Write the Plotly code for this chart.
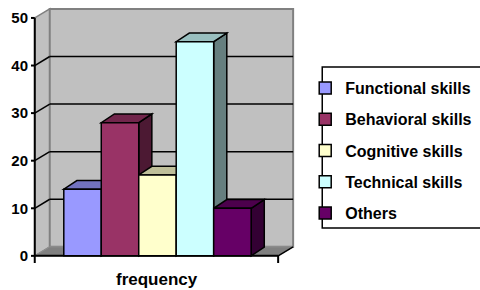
import plotly.graph_objects as go

# ---- data ----
categories = ["Functional skills", "Behavioral skills", "Cognitive skills", "Technical skills", "Others"]
values = [14, 28, 17, 45, 10]
colors = ["#9999FF", "#993366", "#FFFFCC", "#CCFFFF", "#660066"]
y_ticks = [0, 10, 20, 30, 40, 50]
x_label = "frequency"

# ---- geometry (in axis units) ----
XA, XR = -1.275, 5.22        # front edge of floor (left axis .. right end)
WDX, WDY = 0.40, 1.9         # wall depth offset
BDX, BDY = 0.35, 1.83        # bar depth offset
XMIN, XMAX = -1.375, 5.75
YMIN, YMAX = -1.5, 52.3
W, H = 480, 290
ML, MT = 31.3, 7
PW, PH = 266.5, 256.1


def shade(hexcol, f):
    r, g, b = int(hexcol[1:3], 16), int(hexcol[3:5], 16), int(hexcol[5:7], 16)
    return "#%02x%02x%02x" % (int(r * f), int(g * f), int(b * f))


def poly(pts):
    return "M " + " L ".join(f"{x},{y}" for x, y in pts) + " Z"


shapes = []
ymax_tick = max(y_ticks)
# side wall
shapes.append(dict(type="path", xref="x", yref="y", layer="below",
                   path=poly([(XA, 0), (XA, ymax_tick), (XA + WDX, ymax_tick + WDY), (XA + WDX, WDY)]),
                   fillcolor="#C0C0C0", line=dict(color="#808080", width=1.5)))
# back wall
shapes.append(dict(type="path", xref="x", yref="y", layer="below",
                   path=poly([(XA + WDX, WDY), (XR + WDX, WDY), (XR + WDX, ymax_tick + WDY), (XA + WDX, ymax_tick + WDY)]),
                   fillcolor="#C0C0C0", line=dict(color="#808080", width=2)))
# floor
shapes.append(dict(type="path", xref="x", yref="y", layer="below",
                   path=poly([(XA, 0), (XR, 0), (XR + WDX, WDY), (XA + WDX, WDY)]),
                   fillcolor="#808080", line=dict(color="#909090", width=1)))
shapes.append(dict(type="line", xref="x", yref="y", layer="below",
                   x0=XA, y0=0, x1=XR, y1=0, line=dict(color="black", width=2)))
shapes.append(dict(type="line", xref="x", yref="y", layer="below",
                   x0=XR, y0=0, x1=XR + WDX, y1=WDY, line=dict(color="black", width=1.5)))
# gridlines
for t in y_ticks[1:-1]:
    shapes.append(dict(type="line", xref="x", yref="y", layer="below",
                       x0=XA + WDX, y0=t + WDY, x1=XR + WDX, y1=t + WDY, line=dict(color="black", width=1.5)))
    shapes.append(dict(type="line", xref="x", yref="y", layer="below",
                       x0=XA, y0=t, x1=XA + WDX, y1=t + WDY, line=dict(color="black", width=1.5)))
# front value axis + ticks
shapes.append(dict(type="line", xref="x", yref="y", layer="below",
                   x0=XA, y0=0, x1=XA, y1=ymax_tick, line=dict(color="black", width=2)))
for t in y_ticks:
    shapes.append(dict(type="line", xref="x", yref="y", layer="below",
                       x0=XMIN, y0=t, x1=XA, y1=t, line=dict(color="black", width=2)))
for xt in (XA, XR):
    shapes.append(dict(type="line", xref="x", yref="y", layer="below",
                       x0=xt, y0=0, x1=xt, y1=YMIN, line=dict(color="black", width=2)))
# bar sides, then tops
xs = list(range(len(categories)))
for i, v in zip(xs, values):
    shapes.append(dict(type="path", xref="x", yref="y", layer="below",
                       path=poly([(i + 0.5, 0), (i + 0.5, v), (i + 0.5 + BDX, v + BDY), (i + 0.5 + BDX, BDY)]),
                       fillcolor=shade(colors[i], 0.5), line=dict(color="black", width=1.5)))
for i, v in zip(xs, values):
    shapes.append(dict(type="path", xref="x", yref="y", layer="below",
                       path=poly([(i - 0.5, v), (i + 0.5, v), (i + 0.5 + BDX, v + BDY), (i - 0.5 + BDX, v + BDY)]),
                       fillcolor=shade(colors[i], 0.75), line=dict(color="black", width=1.5)))

# legend box
def px2paper_x(px):
    return (px - ML) / PW


def px2paper_y(py):
    return (MT + PH - py) / PH


shapes.append(dict(type="rect", xref="paper", yref="paper",
                   x0=px2paper_x(322), x1=px2paper_x(490), y0=px2paper_y(228), y1=px2paper_y(67),
                   line=dict(color="black", width=1.5), fillcolor="rgba(0,0,0,0)"))

fig = go.Figure()
for i, (c, v) in enumerate(zip(categories, values)):
    fig.add_trace(go.Bar(x=[xs[i]], y=[v], width=1, name=c, legendgroup=c,
                         marker=dict(color=colors[i], line=dict(color="black", width=1.5))))

fig.add_annotation(text=f"<b>{x_label}</b>", x=xs[len(xs) // 2], y=0, xref="x", yref="paper",
                   yanchor="top", yshift=-5, showarrow=False,
                   font=dict(family="Liberation Sans", size=17, color="black"))

fig.update_layout(
    width=W, height=H,
    margin=dict(l=ML, r=W - ML - PW, t=MT, b=H - MT - PH, autoexpand=False),
    paper_bgcolor="white", plot_bgcolor="white",
    barmode="overlay",
    shapes=shapes,
    showlegend=True,
    legend=dict(x=px2paper_x(305), y=px2paper_y(71), xanchor="left", yanchor="top",
                bgcolor="rgba(0,0,0,0)", borderwidth=0, tracegroupgap=7.5,
                font=dict(family="Liberation Sans", size=16, color="black", weight="bold")),
    xaxis=dict(range=[XMIN, XMAX], visible=False, fixedrange=True),
    yaxis=dict(range=[YMIN, YMAX], tickvals=y_ticks, showgrid=False, zeroline=False,
               showline=False, ticks="", ticklabelstandoff=2, fixedrange=True,
               tickfont=dict(family="Liberation Sans", size=15, color="black", weight="bold")),
)
fig.write_html("out.html", config={"displayModeBar": False},
               post_script="document.body.style.margin='0px';")
